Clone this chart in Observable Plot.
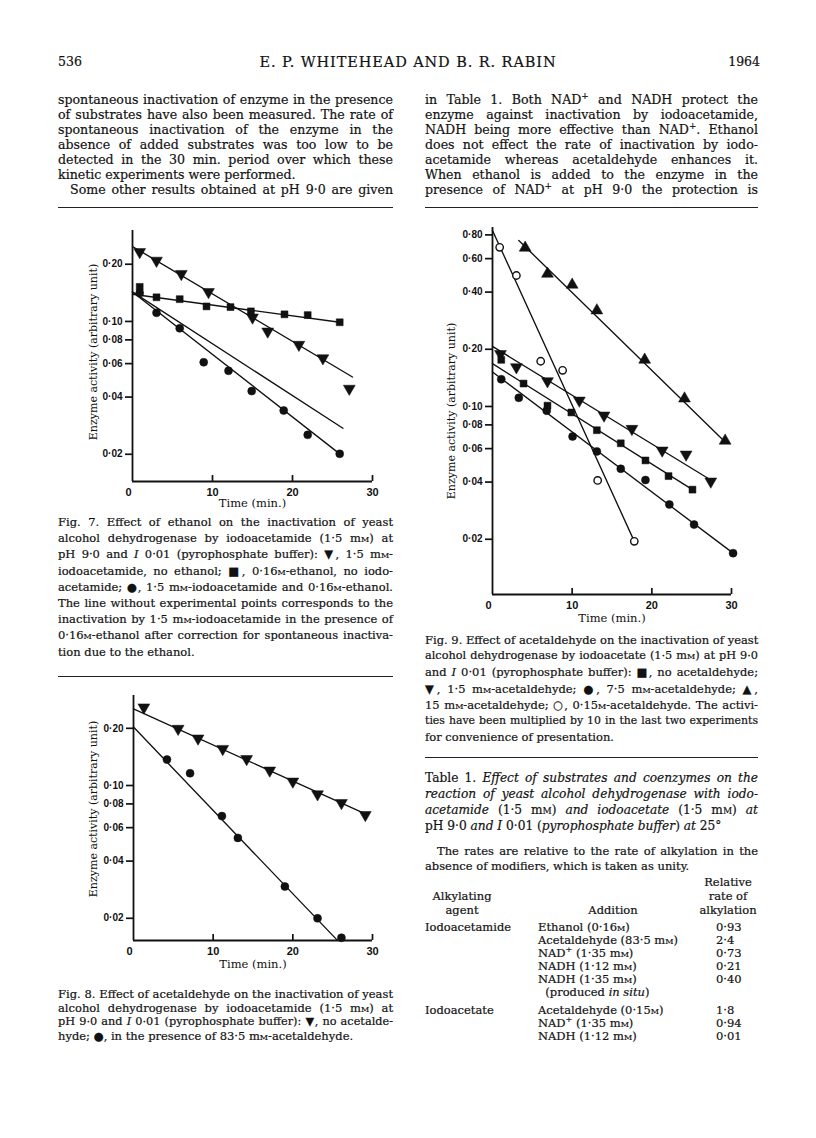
<!DOCTYPE html>
<html><head><meta charset="utf-8">
<script src="https://cdn.jsdelivr.net/npm/d3@7"></script>
<script src="https://cdn.jsdelivr.net/npm/@observablehq/plot@0.6"></script>
<style>
html,body{margin:0;padding:0;background:#fff;}
#page{position:relative;width:816px;height:1138px;overflow:hidden;background:#fff;color:#121212;font-family:"DejaVu Serif",serif;-webkit-text-stroke:0.2px #121212;}
.line{position:absolute;white-space:nowrap;text-align:justify;text-align-last:justify;}
.line.l{text-align:left;text-align-last:left;}
.line.c{text-align:center;text-align-last:center;}
.line.r{text-align:right;text-align-last:right;}
.sc{font-variant:small-caps;}
.rule{position:absolute;height:0;border-top:1.6px solid #222;}
.fig{position:absolute;-webkit-text-stroke:0;}
sup{font-size:0.7em;line-height:0;}
</style></head><body><div id="page"></div>
<script>
// ---------------- chart data ----------------
// Fig. 7
const fig7TimeTri = [0.9, 3.0, 6.1, 9.5, 15.0, 16.9, 20.8, 23.8, 27.1];
const fig7ActTri  = [0.232, 0.209, 0.178, 0.143, 0.105, 0.0886, 0.0754, 0.0641, 0.0443];
const fig7TimeSq  = [0.9, 3.0, 5.9, 9.25, 12.25, 14.8, 19.0, 21.9, 25.9];
const fig7ActSq   = [0.152, 0.134, 0.131, 0.120, 0.119, 0.113, 0.109, 0.108, 0.099];
const fig7TimeCirc = [0.9, 3.0, 5.9, 8.9, 12.0, 14.9, 18.9, 21.9, 25.9];
const fig7ActCirc  = [0.141, 0.111, 0.092, 0.061, 0.055, 0.043, 0.034, 0.0253, 0.0201];
const fig7FitTriT = [0, 27.5],   fig7FitTriV = [0.248, 0.051];
const fig7FitSqT  = [0, 25.9],   fig7FitSqV  = [0.139, 0.099];
const fig7FitCircT = [0, 25.9],  fig7FitCircV = [0.143, 0.0201];
const fig7FitCorrT = [0, 26.3],  fig7FitCorrV = [0.143, 0.0274];
const fig7YExtent = [0.01438, 0.301];
// Fig. 8
const fig8TimeTri = [1.3, 5.6, 8.1, 11.2, 14.2, 17.1, 20.0, 23.1, 26.1, 29.1];
const fig8ActTri  = [0.258, 0.199, 0.177, 0.156, 0.138, 0.120, 0.105, 0.090, 0.081, 0.070];
const fig8TimeCirc = [4.2, 7.1, 11.1, 13.1, 19.0, 23.1, 26.1];
const fig8ActCirc  = [0.137, 0.116, 0.069, 0.053, 0.0294, 0.020, 0.0158];
const fig8FitTriT = [0, 29.1],  fig8FitTriV = [0.253, 0.0709];
const fig8FitCircT = [0, 25.6], fig8FitCircV = [0.203, 0.0153];
const fig8YExtent = [0.01528, 0.2977];
// Fig. 9
const fig9TimeOpen = [0.9, 3.0, 6.05, 8.8, 13.2, 17.8];
const fig9ActOpen  = [0.688, 0.489, 0.173, 0.155, 0.0408, 0.0195];
const fig9TimeUp = [4.1, 6.9, 10.0, 13.1, 19.1, 24.1, 29.2];
const fig9ActUp  = [0.684, 0.499, 0.437, 0.320, 0.176, 0.110, 0.066];
const fig9TimeDown = [1.0, 3.0, 6.9, 10.9, 14.0, 17.5, 21.3, 24.3, 27.4];
const fig9ActDown  = [0.189, 0.161, 0.136, 0.1075, 0.0897, 0.0763, 0.0587, 0.0559, 0.0403];
const fig9TimeSq = [1.1, 3.9, 6.9, 9.9, 13.1, 16.1, 19.2, 22.1, 25.1];
const fig9ActSq  = [0.176, 0.132, 0.101, 0.093, 0.075, 0.064, 0.052, 0.043, 0.0365];
const fig9TimeCirc = [1.1, 3.3, 6.8, 10.05, 13.1, 16.1, 19.2, 22.2, 25.3, 30.2];
const fig9ActCirc  = [0.139, 0.111, 0.095, 0.0695, 0.058, 0.047, 0.041, 0.0305, 0.0239, 0.0169];
const fig9FitOpenT = [0, 17.8],  fig9FitOpenV = [0.844, 0.0195];
const fig9FitUpT = [3.3, 29.2],  fig9FitUpV = [0.748, 0.065];
const fig9FitDownT = [0, 27.4],  fig9FitDownV = [0.207, 0.041];
const fig9FitSqT = [0, 25.1],    fig9FitSqV = [0.168, 0.0365];
const fig9FitCircT = [0, 30.2],  fig9FitCircV = [0.152, 0.0169];
const fig9YExtent = [0.01024, 0.875];
// axes
const timeDomain = [0, 30];
const timeTicks = [10, 20, 30];
const actTicksSmall = [0.20, 0.10, 0.08, 0.06, 0.04, 0.02];
const actTicksBig = [0.80, 0.60, 0.40, 0.20, 0.10, 0.08, 0.06, 0.04, 0.02];
const yLabel = "Enzyme activity (arbitrary unit)";
const xLabel = "Time (min.)";
// Table 1
const tableAgents = ["Iodoacetamide", "", "", "", "", "", "Iodoacetate", "", ""];
const tableAdditions = ["Ethanol (0·16<span class='sc'>m</span>)", "Acetaldehyde (83·5 m<span class='sc'>m</span>)", "NAD<sup>+</sup> (1·35 m<span class='sc'>m</span>)", "NADH (1·12 m<span class='sc'>m</span>)", "NADH (1·35 m<span class='sc'>m</span>)", "&nbsp;&nbsp;(produced <i>in situ</i>)", "Acetaldehyde (0·15<span class='sc'>m</span>)", "NAD<sup>+</sup> (1·35 m<span class='sc'>m</span>)", "NADH (1·12 m<span class='sc'>m</span>)"];
const tableRates = ["0·93", "2·4", "0·73", "0·21", "0·40", "", "1·8", "0·94", "0·01"];

// ---------------- helpers ----------------
const page = document.getElementById("page");
const SERIF = "DejaVu Serif";
const SANS = "Liberation Sans";
const mm = "m<span class='sc'>m</span>", M = "<span class='sc'>m</span>";

function addLine(html, x, yc, width, size, align, lh) {
  const d = document.createElement("div");
  d.className = "line" + (align === "j" ? "" : " " + align);
  d.style.left = x + "px";
  d.style.width = width + "px";
  d.style.top = (yc - lh / 2) + "px";
  d.style.height = lh + "px";
  d.style.lineHeight = lh + "px";
  d.style.fontSize = size + "px";
  d.innerHTML = html;
  page.appendChild(d);
  let s = size;
  while (d.scrollWidth > width + 0.5 && s > 6) { s -= 0.2; d.style.fontSize = s + "px"; }
  return d;
}
function addBlock(lines, x, y0, width, size, step) {
  lines.forEach((ln, i) => {
    const [html, align, indent] = ln;
    addLine(html, x + (indent || 0), y0 + i * step, width - (indent || 0), size, align || "j", step);
  });
}
function addRule(x, y, w) {
  const d = document.createElement("div");
  d.className = "rule";
  d.style.left = x + "px"; d.style.top = y + "px"; d.style.width = w + "px";
  page.appendChild(d);
}
const fmt = d => d.toFixed(2).replace(".", "·");
const zipTV = (t, v) => t.map((ti, i) => ({t: ti, v: v[i]}));

function chart({left, top, width, height, mL, mR, mT, mB, yExtent, yTicks, fits, series, labelDx, labelDy, timeDy}) {
  const frameH = height - mT - mB;
  const marks = [
    Plot.ruleX([timeDomain[0]], {stroke: "#111", strokeWidth: 1.8}),
    Plot.ruleY([yExtent[0]], {stroke: "#111", strokeWidth: 1.8}),
    Plot.ruleX(timeTicks, {stroke: "#111", strokeWidth: 1.7, insetTop: frameH - 6}),
    Plot.axisY({ticks: yTicks, text: fmt, tickSize: 7, tickPadding: 3, fontSize: 10, fontWeight: "bold", fontFamily: SANS, strokeWidth: 1.7, label: null}),
    Plot.axisX({ticks: timeTicks, tickSize: 0, tickPadding: 7, fontSize: 11, fontWeight: "bold", fontFamily: SANS, label: null}),
    Plot.text(["0"], {frameAnchor: "bottom-left", dx: -7, dy: 7, lineAnchor: "top", fontSize: 11, fontWeight: "bold", fontFamily: SANS}),
    Plot.text([yLabel], {frameAnchor: "left", textAnchor: "middle", rotate: -90, dx: labelDx, dy: labelDy || 0, fontSize: 11, fontFamily: SERIF}),
    Plot.text([xLabel], {frameAnchor: "bottom", dy: timeDy, fontSize: 11.5, fontFamily: SERIF})
  ];
  fits.forEach(([t, v]) => marks.push(Plot.line(zipTV(t, v), {x: "t", y: "v", stroke: "#111", strokeWidth: 1.35})));
  series.forEach(s => marks.push(Plot.dot(zipTV(s.t, s.v), {
    x: "t", y: "v", symbol: s.symbol, rotate: s.rotate || 0, r: s.r,
    fill: s.open ? "white" : "#111", stroke: "#111", strokeWidth: s.open ? 1.4 : 0.5
  })));
  const svg = Plot.plot({
    width, height, marginLeft: mL, marginRight: mR, marginTop: mT, marginBottom: mB,
    x: {domain: timeDomain},
    y: {type: "log", domain: yExtent},
    style: {background: "transparent", color: "#111", overflow: "visible"},
    marks
  });
  const wrap = document.createElement("div");
  wrap.className = "fig";
  wrap.style.left = left + "px"; wrap.style.top = top + "px";
  wrap.appendChild(svg);
  page.appendChild(wrap);
}

// ---------------- header & body text ----------------
const L = 58, R = 425, CW = 335;
addLine("536", L, 62, 60, 12.5, "l", 18);
addLine("E. P. WHITEHEAD AND B. R. RABIN", 200, 62, 416, 14.5, "c", 18).style.letterSpacing = "0.9px";
addLine("1964", 698, 62, 62, 12.5, "r", 18);

addBlock([
  ["spontaneous inactivation of enzyme in the presence"],
  ["of substrates have also been measured. The rate of"],
  ["spontaneous inactivation of the enzyme in the"],
  ["absence of added substrates was too low to be"],
  ["detected in the 30 min. period over which these"],
  ["kinetic experiments were performed.", "l"],
  ["Some other results obtained at pH 9·0 are given", "j", 12]
], L, 99, CW, 12.6, 15);
addBlock([
  ["in Table 1. Both NAD<sup>+</sup> and NADH protect the"],
  ["enzyme against inactivation by iodoacetamide,"],
  ["NADH being more effective than NAD<sup>+</sup>. Ethanol"],
  ["does not effect the rate of inactivation by iodo-"],
  ["acetamide whereas acetaldehyde enhances it."],
  ["When ethanol is added to the enzyme in the"],
  ["presence of NAD<sup>+</sup> at pH 9·0 the protection is"]
], R, 99, 333, 12.6, 15);

addRule(L, 207, CW);
addRule(R, 207, 333);

// ---------------- figures ----------------
chart({left: 40, top: 220, width: 360, height: 300, mL: 92, mR: 28, mT: 10, mB: 39,
  yExtent: fig7YExtent, yTicks: actTicksSmall, labelDx: -39, labelDy: -4, timeDy: 25,
  fits: [[fig7FitTriT, fig7FitTriV], [fig7FitSqT, fig7FitSqV], [fig7FitCircT, fig7FitCircV], [fig7FitCorrT, fig7FitCorrV]],
  series: [
    {t: fig7TimeTri, v: fig7ActTri, symbol: "triangle", rotate: 180, r: 4.4},
    {t: fig7TimeSq, v: fig7ActSq, symbol: "square", r: 3.9},
    {t: fig7TimeCirc, v: fig7ActCirc, symbol: "circle", r: 4}
  ]});

chart({left: 40, top: 685, width: 360, height: 300, mL: 93, mR: 28, mT: 10, mB: 45,
  yExtent: fig8YExtent, yTicks: actTicksSmall, labelDx: -40, labelDy: -9, timeDy: 27,
  fits: [[fig8FitTriT, fig8FitTriV], [fig8FitCircT, fig8FitCircV]],
  series: [
    {t: fig8TimeTri, v: fig8ActTri, symbol: "triangle", rotate: 180, r: 4.4},
    {t: fig8TimeCirc, v: fig8ActCirc, symbol: "circle", r: 4}
  ]});

chart({left: 400, top: 217, width: 360, height: 420, mL: 92, mR: 29, mT: 10, mB: 43,
  yExtent: fig9YExtent, yTicks: actTicksBig, labelDx: -41, labelDy: 0, timeDy: 27,
  fits: [[fig9FitOpenT, fig9FitOpenV], [fig9FitUpT, fig9FitUpV], [fig9FitDownT, fig9FitDownV], [fig9FitSqT, fig9FitSqV], [fig9FitCircT, fig9FitCircV]],
  series: [
    {t: fig9TimeOpen, v: fig9ActOpen, symbol: "circle", r: 3.7, open: true},
    {t: fig9TimeUp, v: fig9ActUp, symbol: "triangle", r: 4.4},
    {t: fig9TimeDown, v: fig9ActDown, symbol: "triangle", rotate: 180, r: 4.4},
    {t: fig9TimeSq, v: fig9ActSq, symbol: "square", r: 3.9},
    {t: fig9TimeCirc, v: fig9ActCirc, symbol: "circle", r: 4}
  ]});

// ---------------- captions ----------------
addBlock([
  ["Fig. 7. Effect of ethanol on the inactivation of yeast"],
  ["alcohol dehydrogenase by iodoacetamide (1·5 " + mm + ") at"],
  ["pH 9·0 and <i>I</i> 0·01 (pyrophosphate buffer): ▼, 1·5 " + mm + "-"],
  ["iodoacetamide, no ethanol; ■, 0·16" + M + "-ethanol, no iodo-"],
  ["acetamide; ●, 1·5 " + mm + "-iodoacetamide and 0·16" + M + "-ethanol."],
  ["The line without experimental points corresponds to the"],
  ["inactivation by 1·5 " + mm + "-iodoacetamide in the presence of"],
  ["0·16" + M + "-ethanol after correction for spontaneous inactiva-"],
  ["tion due to the ethanol.", "l"]
], L, 522, CW, 11.5, 16.2);
addRule(L, 676, CW);

addBlock([
  ["Fig. 8.  Effect of acetaldehyde on the inactivation of yeast"],
  ["alcohol dehydrogenase by iodoacetamide (1·5 " + mm + ") at"],
  ["pH 9·0 and <i>I</i> 0·01 (pyrophosphate buffer): ▼, no acetalde-"],
  ["hyde; ●, in the presence of 83·5 " + mm + "-acetaldehyde.", "l"]
], L, 994, CW, 11.5, 14);

addBlock([
  ["Fig. 9.  Effect of acetaldehyde on the inactivation of yeast"],
  ["alcohol dehydrogenase by iodoacetate (1·5 " + mm + ") at pH 9·0"],
  ["and <i>I</i> 0·01 (pyrophosphate buffer): ■, no acetaldehyde;"],
  ["▼, 1·5 " + mm + "-acetaldehyde; ●, 7·5 " + mm + "-acetaldehyde; ▲,"],
  ["15 " + mm + "-acetaldehyde; ○, 0·15" + M + "-acetaldehyde. The activi-"],
  ["ties have been multiplied by 10 in the last two experiments"],
  ["for convenience of presentation.", "l"]
], R, 640, 333, 11.5, 16.2);
addRule(R, 757, 333);

// ---------------- Table 1 ----------------
addBlock([
  ["Table 1. <i>Effect of substrates and coenzymes on the</i>"],
  ["<i>reaction of yeast alcohol dehydrogenase with iodo-</i>"],
  ["<i>acetamide</i> (1·5 " + mm + ") <i>and iodoacetate</i> (1·5 " + mm + ") <i>at</i>"],
  ["pH 9·0 <i>and I</i> 0·01 (<i>pyrophosphate buffer</i>) <i>at</i> 25°", "l"]
], R, 778, 333, 12.2, 16);
addBlock([
  ["The rates are relative to the rate of alkylation in the", "j", 12],
  ["absence of modifiers, which is taken as unity.", "l"]
], R, 851, 333, 11.5, 15);

addLine("Relative", 680, 882, 96, 11.5, "c", 14);
addLine("rate of", 680, 896, 96, 11.5, "c", 14);
addLine("alkylation", 680, 910, 96, 11.5, "c", 14);
addLine("Alkylating", 412, 896, 100, 11.5, "c", 14);
addLine("agent", 412, 910, 100, 11.5, "c", 14);
addLine("Addition", 553, 910, 120, 11.5, "c", 14);

const rowY = [927, 940, 953, 966, 979, 992, 1010, 1023, 1036];
tableAgents.forEach((a, i) => {
  if (a) addLine(a, 425, rowY[i], 110, 11.5, "l", 13);
  addLine(tableAdditions[i], 538, rowY[i], 172, 11.5, "l", 13);
  if (tableRates[i]) addLine(tableRates[i], 716, rowY[i], 50, 11.5, "l", 13);
});
</script></body></html>
